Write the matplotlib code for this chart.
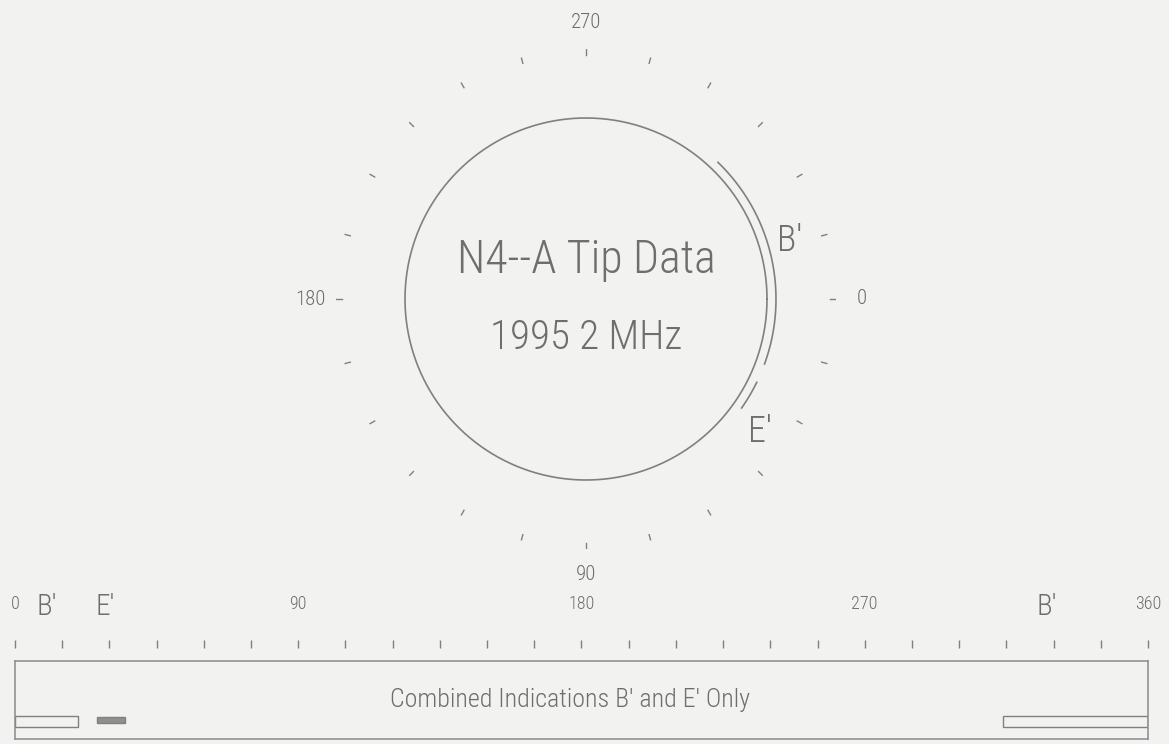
import matplotlib.pyplot as plt
import numpy as np
from matplotlib.patches import Rectangle
from matplotlib import font_manager

# pick a narrow sans if one is there
have = {f.name for f in font_manager.fontManager.ttflist}
narrow = 'DejaVu Sans'
for nm in ['Liberation Sans Narrow', 'DejaVu Sans Condensed', 'Roboto Condensed', 'Open Sans Condensed', 'Roboto']:
    if nm in have:
        narrow = nm
        break
plt.rcParams['font.family'] = [narrow, 'DejaVu Sans']
plt.rcParams['font.weight'] = 'light'

# ---- data ----
deg_ticks = list(range(0, 361, 15))        # tick marks every 15 deg
ring_labels = [0, 90, 180, 270]
bar_labels = [0, 90, 180, 270, 360]
ind_names = ["B'", "E'"]
ind_start = [314, 26]                      # degrees
ind_end = [20, 35]
circle_r = 181
arc_r = 190

# ---- look ----
bg = '#f2f2f0'
gray = '#808080'
tgray = '#6e6e6e'
W, H = 1169, 744

fig = plt.figure(figsize=(W / 100, H / 100), dpi=100)
fig.patch.set_facecolor(bg)
rend = fig.canvas.get_renderer()


def fit(t, width_px):
    '''scale font so the text is width_px wide'''
    w = t.get_window_extent(renderer=rend).width
    t.set_fontsize(t.get_fontsize() * width_px / w)


'''========= polar part ========='''
cx, cy, R = 586, 299, 250
axp = fig.add_axes([(cx - R) / W, (H - cy - R) / H, 2 * R / W, 2 * R / H], projection='polar')
axp.set_theta_zero_location('E')
axp.set_theta_direction(-1)
axp.set_rlim(0, R)
axp.set_facecolor('none')
axp.grid(False)
axp.spines['polar'].set_visible(False)
axp.set_yticks([])
axp.set_xticks([])

# short radial tick marks
for d in deg_ticks[:-1]:
    a = np.deg2rad(d)
    axp.plot([a, a], [244, 250], color=gray, lw=1.0)

th = np.linspace(0, 2 * np.pi, 500)
axp.plot(th, np.full_like(th, circle_r), color=gray, lw=1.2)

for s, e in zip(ind_start, ind_end):
    if e < s:
        e += 360
    t = np.deg2rad(np.linspace(s, e, 200))
    axp.plot(t, np.full_like(t, arc_r), color=gray, lw=1.2)

for d in ring_labels:
    axp.text(np.deg2rad(d), 276, str(d), ha='center', va='center', fontsize=15, color=tgray)

# indication labels around the circle
axp.text(np.deg2rad(344), 212, "B'", ha='center', va='center', fontsize=26, color=tgray)
axp.text(np.deg2rad(37.5), 219, "E'", ha='center', va='center', fontsize=26, color=tgray)

t1 = fig.text(cx / W, (H - 260) / H, "N4--A Tip Data", ha='center', va='center', fontsize=30, color=tgray)
t2 = fig.text(cx / W, (H - 338) / H, "1995 2 MHz", ha='center', va='center', fontsize=30, color=tgray)
fit(t1, 258)
fit(t2, 192)

'''========= bottom strip ========='''
x0, x1, ytop, ybot = 15, 1148, 661, 739
ax = fig.add_axes([x0 / W, (H - ybot) / H, (x1 - x0) / W, (ybot - ytop) / H])
ax.set_xlim(0, 360)
ax.set_ylim(0, ybot - ytop)
ax.set_facecolor('none')
ax.set_xticks([])
ax.set_yticks([])
for sp in ax.spines.values():
    sp.set_color('#8a8a8a')
    sp.set_linewidth(1.1)

sec = ax.secondary_xaxis(1 + 13 / (ybot - ytop))
sec.set_xticks(deg_ticks)
sec.set_xticklabels([str(d) if d in bar_labels else '' for d in deg_ticks])
for sp in sec.spines.values():
    sp.set_visible(False)
sec.tick_params(axis='x', direction='out', length=6, width=1, color=gray,
                labelcolor=tgray, labelsize=13, pad=19)

# bars for each indication
bar_y = [12, 16]
bar_h = [11, 6]
bar_fc = ['none', '#8f8f8f']
for i in range(len(ind_names)):
    s, e = ind_start[i], ind_end[i]
    segs = [(s, 360), (0, e)] if e < s else [(s, e)]
    for a, b in segs:
        ax.add_patch(Rectangle((a, bar_y[i]), b - a, bar_h[i], fc=bar_fc[i], ec=gray, lw=1.0))

ax.text(10, 132, "B'", ha='center', va='center', fontsize=21, color=tgray, clip_on=False)
ax.text(28.6, 132, "E'", ha='center', va='center', fontsize=21, color=tgray, clip_on=False)
ax.text(328, 132, "B'", ha='center', va='center', fontsize=21, color=tgray, clip_on=False)

t3 = ax.text(0.49, 0.5, "Combined Indications B' and E' Only", transform=ax.transAxes,
             ha='center', va='center', fontsize=20, color=tgray)
fit(t3, 360)

plt.savefig('out.png', dpi=100, facecolor=bg)
